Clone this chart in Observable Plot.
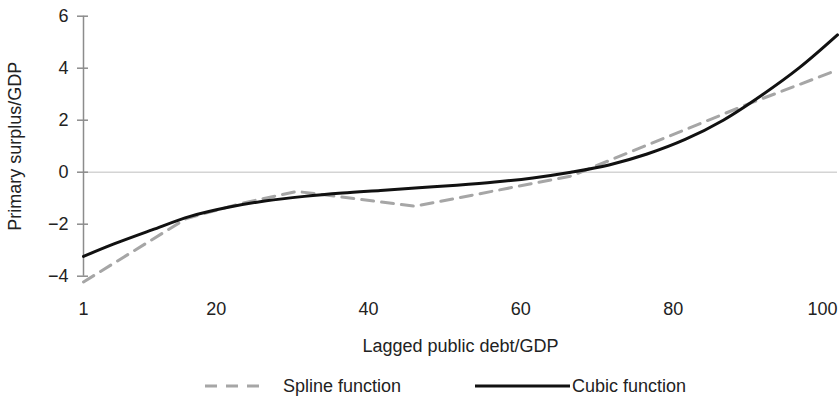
<!DOCTYPE html>
<html>
<head>
<meta charset="utf-8">
<script src="https://cdn.jsdelivr.net/npm/d3@7"></script>
<script src="https://cdn.jsdelivr.net/npm/@observablehq/plot@0.6"></script>
<style>
  html, body { margin: 0; padding: 0; background: #fff; }
  #wrap { position: relative; width: 839px; height: 406px; font-family: "Liberation Sans", Arial, Helvetica, sans-serif; color: #222; }
  #legend { position: absolute; left: 0; top: 372px; width: 839px; height: 28px; }
  .item { position: absolute; top: 0; display: flex; align-items: center; height: 28px; font-size: 18px; }
</style>
</head>
<body>
<div id="wrap">
  <div id="chart"></div>
  <div id="legend"></div>
</div>
<script>
// Data
const debtCubic = [1, 5, 10, 15, 20, 25, 30, 35, 40, 45, 50, 55, 60, 65, 70, 75, 80, 85, 90, 95, 100];
const cubicValues = [-3.24, -2.76, -2.22, -1.70, -1.35, -1.10, -0.93, -0.80, -0.70, -0.60, -0.50, -0.38, -0.22, 0.0, 0.28, 0.70, 1.26, 2.00, 2.95, 4.02, 5.28];
const debtSpline = [1, 14.5, 22, 29, 44.5, 65, 88.5, 100];
const splineValues = [-4.22, -1.78, -1.18, -0.74, -1.31, -0.15, 2.65, 3.93];
const xTicksFirst = [1];
const xTicksMid = [20, 40, 60, 80];
const xTicksLast = [100];
const yTicks = [-4, -2, 0, 2, 4, 6];
const seriesNames = ["Spline function", "Cubic function"];

const cubic = debtCubic.map((d, i) => ({debt: d, value: cubicValues[i]}));
const spline = debtSpline.map((d, i) => ({debt: d, value: splineValues[i]}));

const axisGray = "#8c8c8c";
const splineGray = "#a6a6a6";
const fontSize = 18;

const plot = Plot.plot({
  width: 839,
  height: 360,
  marginTop: 15.7,
  marginBottom: 84.3,
  marginLeft: 83,
  marginRight: 2,
  style: {fontFamily: '"Liberation Sans", Arial, Helvetica, sans-serif', fontSize: fontSize + "px", color: "#222", background: "white"},
  x: {domain: [1, 100]},
  y: {domain: [-4, 6]},
  marks: [
    Plot.ruleY([0], {x1: 1, x2: 100, stroke: "#d4d4d4", strokeWidth: 1.5}),
    Plot.ruleX([1], {y1: -4, y2: 6, stroke: axisGray, strokeWidth: 1.5}),
    Plot.axisY({ticks: yTicks, tickSize: 6, tickPadding: 9, stroke: axisGray, strokeWidth: 1.5, label: null, fill: "#222"}),
    Plot.axisY({ticks: yTicks, tickSize: -5, tickFormat: () => "", stroke: axisGray, strokeWidth: 1.5, label: null}),
    Plot.axisY({ticks: [], label: "Primary surplus/GDP", labelAnchor: "center", labelArrow: "none", labelOffset: 75, dy: -11, fill: "#222"}),
    Plot.axisX({ticks: xTicksFirst, tickSize: 0, tickPadding: 26, label: null, fill: "#222"}),
    Plot.axisX({ticks: xTicksMid, tickSize: 0, tickPadding: 26, dx: -12, label: null, fill: "#222"}),
    Plot.axisX({ticks: xTicksLast, tickSize: 0, tickPadding: 26, textAnchor: "end", label: null, fill: "#222"}),
    Plot.axisX({ticks: [], label: "Lagged public debt/GDP", labelAnchor: "center", labelArrow: "none", labelOffset: 76, dx: -7, fill: "#222"}),
    Plot.line(spline, {x: "debt", y: "value", stroke: splineGray, strokeWidth: 3, strokeDasharray: "12,8"}),
    Plot.line(cubic, {x: "debt", y: "value", stroke: "#111", strokeWidth: 3, curve: "catmull-rom"})
  ]
});
document.getElementById("chart").appendChild(plot);

// Legend below the chart
const legend = document.getElementById("legend");
const items = [
  {name: seriesNames[0], left: 205, sw: 60, gap: 18, dash: "12,9", color: splineGray},
  {name: seriesNames[1], left: 475, sw: 95, gap: 2, dash: null, color: "#111"}
];
for (const it of items) {
  const div = document.createElement("div");
  div.className = "item";
  div.style.left = it.left + "px";
  const svg = d3.create("svg").attr("width", it.sw).attr("height", 10).style("display", "block");
  svg.append("line").attr("x1", 0).attr("x2", it.sw).attr("y1", 5).attr("y2", 5)
    .attr("stroke", it.color).attr("stroke-width", 3)
    .attr("stroke-dasharray", it.dash);
  div.appendChild(svg.node());
  const span = document.createElement("span");
  span.textContent = it.name;
  span.style.marginLeft = it.gap + "px";
  div.appendChild(span);
  legend.appendChild(div);
}
</script>
</body>
</html>
